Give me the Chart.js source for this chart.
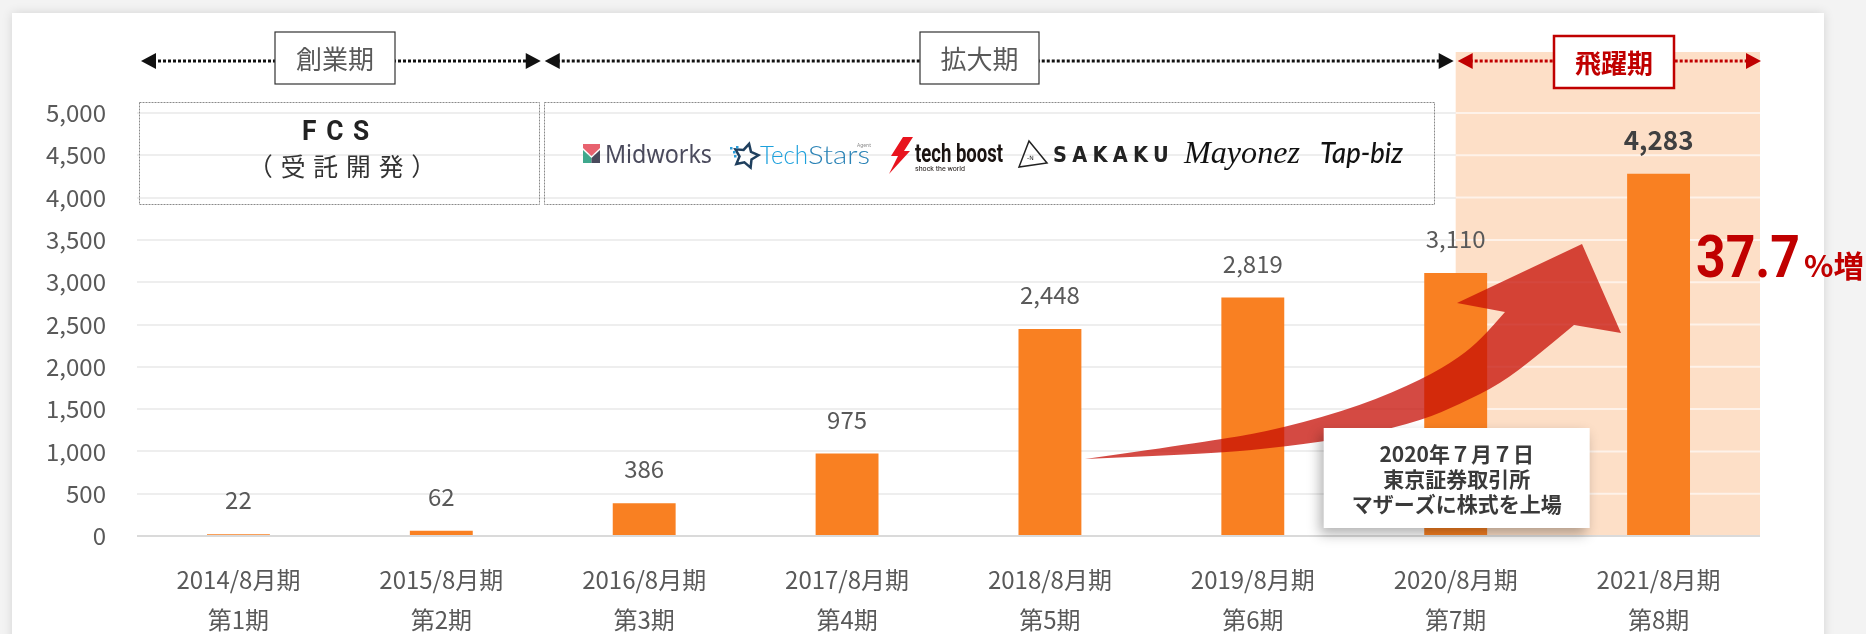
<!DOCTYPE html>
<html>
<head>
<meta charset="utf-8">
<script src="https://cdn.jsdelivr.net/npm/chart.js@4.4.1/dist/chart.umd.min.js"></script>
<style>
  html, body { margin: 0; padding: 0; background: #f3f3f3; overflow: hidden; }
  #card { position: absolute; left: 12px; top: 13px; width: 1812px; height: 660px; background: #fff; box-shadow: 0 0 10px rgba(0,0,0,0.13); }
  #c { position: absolute; left: 0; top: 0; }
</style>
</head>
<body>
<div id="card"></div>
<canvas id="c" width="1866" height="634"></canvas>
<script>
const years = ['2014/8月期', '2015/8月期', '2016/8月期', '2017/8月期', '2018/8月期', '2019/8月期', '2020/8月期', '2021/8月期'];
const terms = ['第1期', '第2期', '第3期', '第4期', '第5期', '第6期', '第7期', '第8期'];
const sales = [22, 62, 386, 975, 2448, 2819, 3110, 4283];
const yMax = 5000;
const yStep = 500;

const periodNames = ['創業期', '拡大期', '飛躍期'];
const periodFrom = [-0.5, 1.5, 6];
const periodTo = [1.5, 6, 7.5];
const services = ['Midworks', 'TechStars', 'tech boost', 'SAKAKU', 'Mayonez', 'Tap-biz'];
const listing = ['2020年７月７日', '東京証券取引所', 'マザーズに株式を上場'];
const growth = '37.7';

const JP = '"Noto Sans CJK JP", "Noto Sans", sans-serif';
const ORANGE = '#f98022';
const RED = '#c00000';

// draw text squeezed/stretched to a given width
function fitText(ctx, text, x, y, w) {
    const m = ctx.measureText(text).width;
    ctx.save();
    ctx.translate(x, y);
    ctx.scale(w / m, 1);
    ctx.fillText(text, 0, 0);
    ctx.restore();
}

function periodArrow(ctx, x1, x2, y, color) {
    ctx.save();
    ctx.strokeStyle = color;
    ctx.fillStyle = color;
    ctx.lineWidth = 3;
    ctx.setLineDash([3, 2]);
    ctx.beginPath();
    ctx.moveTo(x1 + 12, y);
    ctx.lineTo(x2 - 12, y);
    ctx.stroke();
    ctx.setLineDash([]);
    ctx.beginPath();
    ctx.moveTo(x1, y); ctx.lineTo(x1 + 15, y - 8); ctx.lineTo(x1 + 15, y + 8); ctx.closePath();
    ctx.moveTo(x2, y); ctx.lineTo(x2 - 15, y - 8); ctx.lineTo(x2 - 15, y + 8); ctx.closePath();
    ctx.fill();
    ctx.restore();
}

function dashedBox(ctx, x1, y1, x2, y2) {
    ctx.save();
    ctx.strokeStyle = '#8a8a8a';
    ctx.lineWidth = 1;
    ctx.setLineDash([2, 1]);
    ctx.strokeRect(x1 + 0.5, y1 + 0.5, x2 - x1, y2 - y1);
    ctx.restore();
}

function drawLogos(ctx) {
    ctx.save();
    ctx.textBaseline = 'alphabetic';
    // Midworks
    ctx.fillStyle = '#e8626f';
    ctx.beginPath();
    ctx.moveTo(583, 144); ctx.lineTo(600, 144); ctx.lineTo(600, 148); ctx.lineTo(591.5, 156); ctx.lineTo(583, 148);
    ctx.fill();
    ctx.fillStyle = '#3fa88d';
    ctx.beginPath();
    ctx.moveTo(583, 150); ctx.lineTo(591.5, 158); ctx.lineTo(591.5, 163); ctx.lineTo(583, 163);
    ctx.fill();
    ctx.fillStyle = '#4a4a5c';
    ctx.beginPath();
    ctx.moveTo(600, 150); ctx.lineTo(591.5, 158); ctx.lineTo(591.5, 163); ctx.lineTo(600, 163);
    ctx.fill();
    ctx.font = '25px "Noto Sans"';
    fitText(ctx, services[0], 605, 163, 107);

    // TechStars
    ctx.strokeStyle = '#1f3f5e';
    ctx.lineWidth = 2.5;
    ctx.lineJoin = 'miter';
    ctx.beginPath();
    for (let i = 0; i < 10; i++) {
        const r = i % 2 === 0 ? 12.5 : 6.5;
        const a = -Math.PI / 2 + i * Math.PI / 5 + 0.25;
        const px = 746 + r * Math.cos(a), py = 156 + r * Math.sin(a);
        i === 0 ? ctx.moveTo(px, py) : ctx.lineTo(px, py);
    }
    ctx.closePath();
    ctx.stroke();
    ctx.fillStyle = '#2a9bd8';
    [[730, 147], [733, 151], [736, 146], [734, 155]].forEach(p => ctx.fillRect(p[0], p[1], 2.5, 2.5));
    ctx.font = '300 25px Lato';
    ctx.fillStyle = '#1ca0dc';
    fitText(ctx, 'Tech', 760, 164, 48);
    ctx.fillStyle = '#2b83b6';
    fitText(ctx, 'Stars', 808, 164, 62);
    ctx.fillStyle = '#888';
    ctx.font = '5px "Noto Sans"';
    ctx.fillText('Agent', 857, 147);

    // tech boost
    ctx.fillStyle = '#e8141e';
    ctx.beginPath();
    ctx.moveTo(903, 137); ctx.lineTo(913, 137); ctx.lineTo(904, 151); ctx.lineTo(910, 151);
    ctx.lineTo(889, 174); ctx.lineTo(898, 156); ctx.lineTo(891, 156);
    ctx.closePath();
    ctx.fill();
    ctx.fillStyle = '#1a1311';
    ctx.font = 'bold 25px Roboto';
    fitText(ctx, services[2], 915, 162, 88);
    ctx.font = '8px Roboto';
    fitText(ctx, 'shock the world', 915, 171, 50);

    // SAKAKU
    ctx.strokeStyle = '#222';
    ctx.lineWidth = 1.5;
    ctx.beginPath();
    ctx.moveTo(1029, 141); ctx.lineTo(1047, 163); ctx.lineTo(1019, 167); ctx.closePath();
    ctx.stroke();
    ctx.fillStyle = '#222';
    ctx.font = '6px "DejaVu Sans"';
    ctx.fillText('-N', 1027, 160);
    ctx.font = 'bold 22px "DejaVu Sans"';
    ctx.letterSpacing = '6px';
    fitText(ctx, services[3], 1053, 162, 121);
    ctx.letterSpacing = '0px';

    // Mayonez
    ctx.fillStyle = '#111';
    ctx.font = 'italic 31px "Liberation Serif"';
    fitText(ctx, services[4], 1184, 163, 116);

    // Tap-biz
    ctx.font = 'italic 500 28px Lato';
    fitText(ctx, services[5], 1320, 163, 83);
    ctx.restore();
}

function smoothPath(ctx, pts, start) {
    if (start) ctx.moveTo(pts[0][0], pts[0][1]); else ctx.lineTo(pts[0][0], pts[0][1]);
    for (let i = 1; i < pts.length - 1; i++) {
        const mx = (pts[i][0] + pts[i + 1][0]) / 2, my = (pts[i][1] + pts[i + 1][1]) / 2;
        ctx.quadraticCurveTo(pts[i][0], pts[i][1], mx, my);
    }
    const last = pts[pts.length - 1];
    ctx.lineTo(last[0], last[1]);
}

function bigArrow(ctx) {
    const upper = [[1085, 459], [1220, 440], [1283, 428], [1360, 406], [1423, 379], [1460, 357], [1482, 338], [1505, 312]];
    const lower = [[1574, 325], [1537, 356], [1500, 384], [1460, 404], [1423, 420], [1360, 436], [1283, 447], [1220, 453], [1085, 459]];
    ctx.save();
    ctx.fillStyle = 'rgba(198, 14, 4, 0.75)';
    ctx.beginPath();
    smoothPath(ctx, upper, true);
    ctx.lineTo(1457, 303);
    ctx.lineTo(1582, 244);
    ctx.lineTo(1621, 333);
    smoothPath(ctx, lower, false);
    ctx.closePath();
    ctx.fill();
    ctx.restore();
}

const backdrop = {
    id: 'backdrop',
    beforeDatasetsDraw(chart) {
        const { ctx, chartArea: { right, bottom }, scales: { x, y } } = chart;
        const sx = x.getPixelForValue(6);
        ctx.save();
        ctx.fillStyle = '#fddfc7';
        ctx.fillRect(sx, 52, right - sx, bottom - 52);
        ctx.strokeStyle = 'rgba(255,255,255,0.6)';
        ctx.lineWidth = 2;
        for (let v = yStep; v <= yMax; v += yStep) {
            const py = y.getPixelForValue(v);
            ctx.beginPath(); ctx.moveTo(sx, py); ctx.lineTo(right, py); ctx.stroke();
        }
        ctx.strokeStyle = '#dadada';
        const p0 = y.getPixelForValue(0);
        ctx.beginPath(); ctx.moveTo(sx, p0); ctx.lineTo(right, p0); ctx.stroke();
        ctx.restore();
    }
};

const overlay = {
    id: 'overlay',
    afterDatasetsDraw(chart) {
        const { ctx, scales: { x } } = chart;
        const meta = chart.getDatasetMeta(0);
        ctx.save();
        ctx.textAlign = 'center';
        ctx.textBaseline = 'middle';
        meta.data.forEach((bar, i) => {
            const last = i === sales.length - 1;
            ctx.font = (last ? 'bold 26px ' : '24px ') + JP;
            ctx.fillStyle = last ? '#404040' : '#595959';
            ctx.fillText(sales[i].toLocaleString('en-US'), bar.x, bar.y - 34);
        });
        ctx.restore();

        bigArrow(ctx);

        // listing callout
        const cx = x.getPixelForValue(6);
        ctx.save();
        ctx.shadowColor = 'rgba(0,0,0,0.3)';
        ctx.shadowBlur = 12;
        ctx.shadowOffsetX = -4;
        ctx.shadowOffsetY = 6;
        ctx.fillStyle = '#fff';
        ctx.fillRect(cx - 132, 428, 266, 100);
        ctx.restore();
        ctx.save();
        ctx.fillStyle = '#3a3a3a';
        ctx.font = 'bold 21px ' + JP;
        ctx.textAlign = 'center';
        ctx.textBaseline = 'middle';
        listing.forEach((t, i) => ctx.fillText(t, cx + 1, 454 + i * 25));
        ctx.restore();

        // growth
        ctx.save();
        ctx.fillStyle = RED;
        ctx.textBaseline = 'alphabetic';
        ctx.font = 'bold 60px Roboto';
        fitText(ctx, growth, 1696, 277, 104);
        ctx.font = 'bold 30px ' + JP;
        fitText(ctx, '%増', 1804, 277, 60);
        ctx.restore();

        // periods
        const boxes = [[275, 395, 32, 84], [920, 1039, 32, 84], [1554, 1674, 36, 88]];
        periodNames.forEach((name, i) => {
            const x1 = x.getPixelForValue(periodFrom[i]) + (i === 0 ? 4 : 2);
            const x2 = x.getPixelForValue(periodTo[i]) - (i === 2 ? -1 : 2);
            const red = i === 2;
            periodArrow(ctx, x1, x2, 61, red ? RED : '#111');
            const [bx1, bx2, by1, by2] = boxes[i];
            ctx.save();
            ctx.fillStyle = '#fff';
            ctx.fillRect(bx1, by1, bx2 - bx1, by2 - by1);
            ctx.strokeStyle = red ? RED : '#333';
            ctx.lineWidth = red ? 2.5 : 1.2;
            ctx.strokeRect(bx1, by1, bx2 - bx1, by2 - by1);
            ctx.fillStyle = red ? RED : '#595959';
            ctx.font = (red ? 'bold 26px ' : '26px ') + JP;
            ctx.textAlign = 'center';
            ctx.textBaseline = 'middle';
            ctx.fillText(name, (bx1 + bx2) / 2, (by1 + by2) / 2 + 1);
            ctx.restore();
        });

        // service boxes
        dashedBox(ctx, 139, 102, 539, 204);
        dashedBox(ctx, 544, 102, 1434, 204);
        ctx.save();
        ctx.fillStyle = '#222';
        ctx.textBaseline = 'middle';
        ctx.font = 'bold 27px Roboto';
        ctx.letterSpacing = '10px';
        fitText(ctx, 'FCS', 302, 133, 77);
        ctx.font = '25px ' + JP;
        ctx.fillStyle = '#333';
        ctx.letterSpacing = '8px';
        fitText(ctx, '（受託開発）', 248, 166, 196);
        ctx.restore();
        drawLogos(ctx);
    }
};

new Chart(document.getElementById('c'), {
    type: 'bar',
    data: {
        labels: years.map((yr, i) => [yr, terms[i]]),
        datasets: [{
            data: sales,
            backgroundColor: ORANGE,
            borderWidth: 0,
            barPercentage: 0.31,
            categoryPercentage: 1
        }]
    },
    options: {
        responsive: false,
        animation: false,
        layout: { padding: { left: 0, right: 106, top: 113, bottom: 0 } },
        plugins: { legend: { display: false }, tooltip: { enabled: false } },
        scales: {
            x: {
                grid: { display: false },
                border: { display: false },
                ticks: {
                    color: '#595959',
                    font: { family: JP, size: 24, lineHeight: 1.667 },
                    padding: 16,
                    maxRotation: 0,
                    autoSkip: false
                },
                afterFit(s) { s.height = 98; }
            },
            y: {
                min: 0,
                max: yMax,
                ticks: {
                    stepSize: yStep,
                    color: '#595959',
                    font: { family: JP, size: 24 },
                    padding: 31,
                    callback: v => v.toLocaleString('en-US')
                },
                grid: {
                    color: c => c.tick.value === 0 ? '#dadada' : '#eeeeee',
                    lineWidth: 2,
                    drawTicks: false
                },
                border: { display: false },
                afterFit(s) { s.width = 137; }
            }
        }
    },
    plugins: [backdrop, overlay]
});
</script>
</body>
</html>
